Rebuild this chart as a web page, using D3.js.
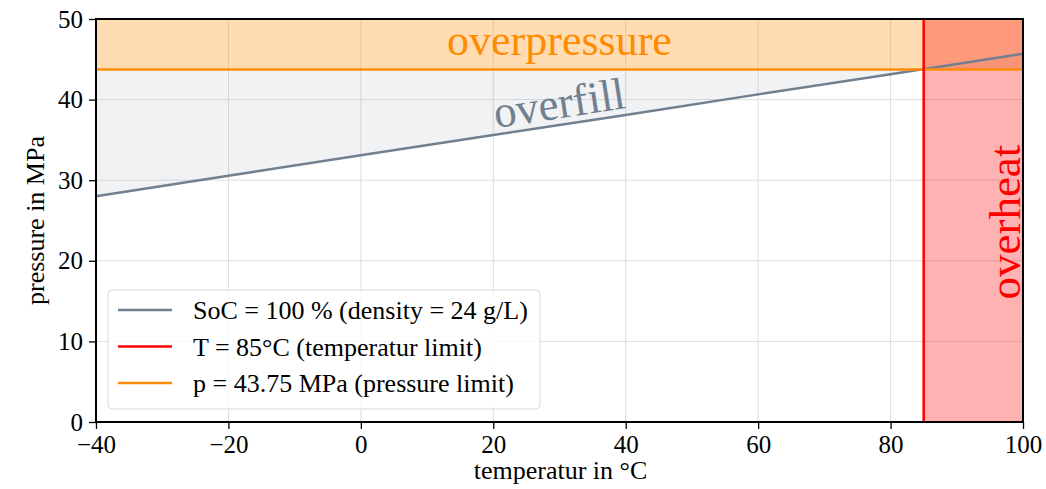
<!DOCTYPE html>
<html>
<head>
<meta charset="utf-8">
<script src="https://cdn.jsdelivr.net/npm/d3@7"></script>
<style>
  body { margin: 0; background: #fff; }
  text { font-family: "Liberation Serif", "Times New Roman", serif; }
</style>
</head>
<body>
<div id="chart"></div>
<script>
// data
var temps = [-40, -20, 0, 20, 40, 60, 80, 100];
var pressures = [28.0, 30.55, 33.1, 35.6, 38.1, 40.65, 43.15, 45.7];
var tempLimit = 85;
var pressureLimit = 43.75;
var xTicks = [-40, -20, 0, 20, 40, 60, 80, 100];
var yTicks = [0, 10, 20, 30, 40, 50];
var legendLabels = ["SoC = 100 % (density = 24 g/L)", "T = 85°C (temperatur limit)", "p = 43.75 MPa (pressure limit)"];
var legendColors = ["#708090", "#ff0000", "#ff8c00"];

var margin = {top: 19, right: 23, bottom: 67, left: 96},
    width = 1046 - margin.left - margin.right,
    height = 489 - margin.top - margin.bottom;

var svg = d3.select("#chart")
    .append("svg")
        .attr("width", width + margin.left + margin.right)
        .attr("height", height + margin.top + margin.bottom)
    .append("g")
        .attr("transform", "translate(" + margin.left + "," + margin.top + ")");

var x = d3.scaleLinear().domain([-40, 100]).range([0, width]);
var y = d3.scaleLinear().domain([0, 50]).range([height, 0]);

var data = temps.map(function(t, i) { return {t: t, p: pressures[i]}; });

// grid
svg.append("g").selectAll("line.gx").data(xTicks).enter().append("line")
    .attr("x1", function(d) { return x(d); }).attr("x2", function(d) { return x(d); })
    .attr("y1", 0).attr("y2", height)
    .attr("stroke", "#dedede").attr("stroke-width", 1);
svg.append("g").selectAll("line.gy").data(yTicks).enter().append("line")
    .attr("y1", function(d) { return y(d); }).attr("y2", function(d) { return y(d); })
    .attr("x1", 0).attr("x2", width)
    .attr("stroke", "#dedede").attr("stroke-width", 1);

// overfill region between the SoC line and the pressure limit
svg.append("path")
    .datum(data)
    .attr("fill", "#708090")
    .attr("fill-opacity", 0.1)
    .attr("d", d3.area()
        .x(function(d) { return x(d.t); })
        .y0(y(pressureLimit))
        .y1(function(d) { return y(d.p); }));

// overpressure region
svg.append("rect")
    .attr("x", x(-40)).attr("width", x(100) - x(-40))
    .attr("y", y(50)).attr("height", y(pressureLimit) - y(50))
    .attr("fill", "#ff8c00").attr("fill-opacity", 0.3);

// overheat region
svg.append("rect")
    .attr("x", x(tempLimit)).attr("width", x(100) - x(tempLimit))
    .attr("y", y(50)).attr("height", y(0) - y(50))
    .attr("fill", "#ff0000").attr("fill-opacity", 0.3);

// SoC line
svg.append("path")
    .datum(data)
    .attr("fill", "none")
    .attr("stroke", "#708090")
    .attr("stroke-width", 2.5)
    .attr("d", d3.line().x(function(d) { return x(d.t); }).y(function(d) { return y(d.p); }));

// limits
svg.append("line")
    .attr("x1", x(-40)).attr("x2", x(100))
    .attr("y1", y(pressureLimit)).attr("y2", y(pressureLimit))
    .attr("stroke", "#ff8c00").attr("stroke-width", 2.5);
svg.append("line")
    .attr("x1", x(tempLimit)).attr("x2", x(tempLimit))
    .attr("y1", y(0)).attr("y2", y(50))
    .attr("stroke", "#ff0000").attr("stroke-width", 2.5);

// region labels
svg.append("text")
    .attr("x", x(30)).attr("y", y(45.5))
    .attr("text-anchor", "middle")
    .style("font-size", "44px")
    .attr("fill", "#ff8c00")
    .text("overpressure");

var slope = (y(pressures[7]) - y(pressures[0])) / (x(temps[7]) - x(temps[0]));
var angle = Math.atan(slope) * 180 / Math.PI;
var pAt30 = 28.0 + (45.7 - 28.0) * 70 / 140;
svg.append("text")
    .attr("transform", "translate(" + (x(30) + 2) + "," + (y(pAt30) - 7) + ") rotate(" + angle + ")")
    .attr("text-anchor", "middle")
    .style("font-size", "45px")
    .attr("fill", "#708090")
    .text("overfill");

svg.append("text")
    .attr("transform", "translate(" + (x(100) - 3) + "," + y(24.8) + ") rotate(-90)")
    .attr("text-anchor", "middle")
    .style("font-size", "45px")
    .attr("fill", "#ff0000")
    .text("overheat");

// axes
var xAxis = svg.append("g")
    .attr("transform", "translate(0," + height + ")")
    .call(d3.axisBottom(x).tickValues(xTicks).tickSize(7).tickPadding(6)
        .tickFormat(function(d) { return d < 0 ? "\u2212" + Math.abs(d) : d; }));
var yAxis = svg.append("g")
    .call(d3.axisLeft(y).tickValues(yTicks).tickSize(7).tickPadding(6));
[xAxis, yAxis].forEach(function(a) {
    a.select(".domain").remove();
    a.selectAll("line").attr("stroke", "#000").attr("stroke-width", 1.3);
    a.selectAll("text").style("font-size", "25px").attr("fill", "#000")
        .style("font-family", "'Liberation Serif', serif");
});

// frame
svg.append("rect")
    .attr("x", 0).attr("y", 0).attr("width", width).attr("height", height)
    .attr("fill", "none").attr("stroke", "#000").attr("stroke-width", 2);

// axis labels
svg.append("text")
    .attr("x", width / 2 + 1).attr("y", height + 57)
    .attr("text-anchor", "middle")
    .style("font-size", "26px")
    .text("temperatur in °C");
svg.append("text")
    .attr("transform", "rotate(-90)")
    .attr("x", -height / 2).attr("y", -52)
    .attr("text-anchor", "middle")
    .style("font-size", "26px")
    .text("pressure in MPa");

// legend
var legend = svg.append("g").attr("transform", "translate(12," + 271 + ")");
legend.append("rect")
    .attr("width", 432).attr("height", 119)
    .attr("rx", 4)
    .attr("fill", "#fff").attr("fill-opacity", 0.8)
    .attr("stroke", "#d8d8d8").attr("stroke-width", 1);
var rows = legend.selectAll("g.row").data(legendLabels).enter().append("g")
    .attr("transform", function(d, i) { return "translate(0," + (20 + i * 36.5) + ")"; });
rows.append("line")
    .attr("x1", 10).attr("x2", 64)
    .attr("stroke", function(d, i) { return legendColors[i]; })
    .attr("stroke-width", 2.5);
rows.append("text")
    .attr("x", 85).attr("y", 9)
    .style("font-size", "26px")
    .text(function(d) { return d; });
</script>
</body>
</html>
